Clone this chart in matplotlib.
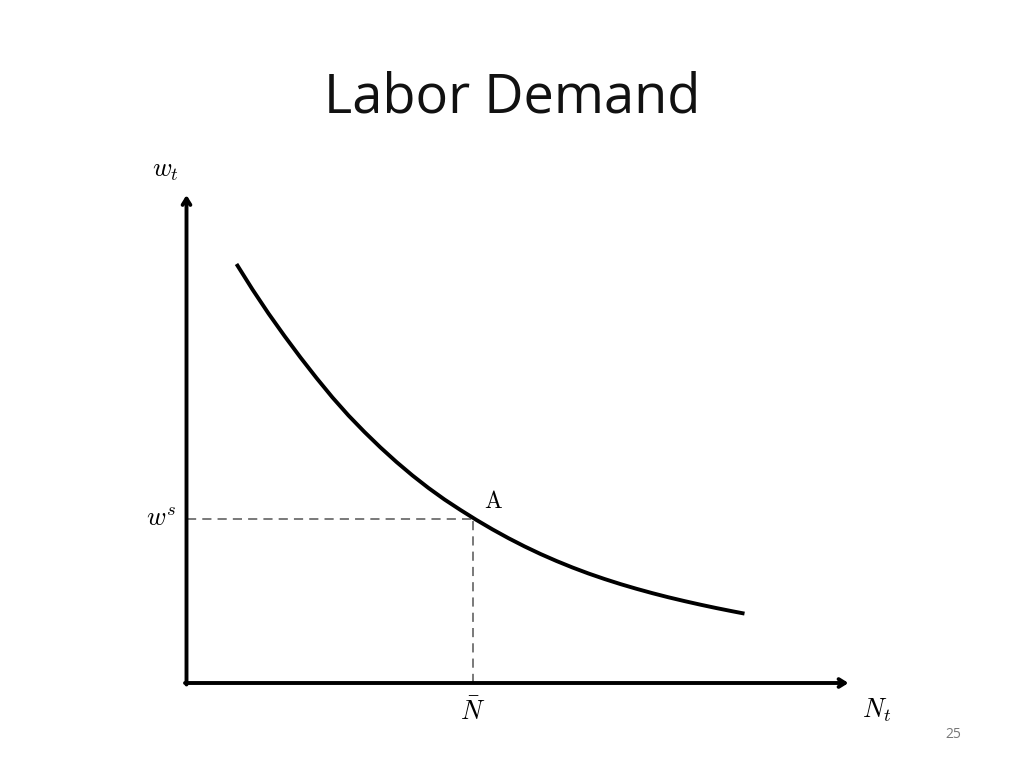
import matplotlib
matplotlib.use("Agg")
import matplotlib.pyplot as plt

# labor demand curve (units: pixels from the origin)
demand_n = [50, 66, 82, 98, 114, 130, 146, 162, 178, 194, 210, 226, 242, 258, 274, 290, 306,
            322, 338, 354, 370, 386, 402, 418, 434, 450, 466, 482, 498, 514, 530, 546, 558]
demand_w = [419, 393.5, 369.5, 347, 325.5, 305, 285.5, 267.5, 251, 235.5, 221, 207.5, 195, 183.5,
            173, 163, 153.6, 144.8, 136.6, 129, 122, 115.5, 109.5, 104, 98.9, 94.2, 89.8, 85.7,
            81.9, 78.3, 74.9, 71.7, 69.4]
point_a = (286.5, 164.5)
axis_max = (662, 488)

plt.rcParams['mathtext.fontset'] = 'cm'

fig = plt.figure(figsize=(10.24, 7.68), dpi=100)
fig.text(0.5, 0.872, "Labor Demand", ha="center", va="center", fontsize=39, family="Open Sans", color="#111111")
fig.text(0.931, 0.043, "25", ha="center", va="center", fontsize=10, family="Open Sans", color="#777777")

ax = fig.add_axes([186.5 / 1024, 85 / 768, axis_max[0] / 1024, axis_max[1] / 768])
ax.set_xlim(0, axis_max[0])
ax.set_ylim(0, axis_max[1])
ax.axis("off")

# axes with arrows
arrow = dict(arrowstyle="->,head_length=0.45,head_width=0.28", lw=2.8, color="black", shrinkA=0, shrinkB=0)
ax.annotate("", xy=(axis_max[0], 0), xytext=(-1.5, 0), arrowprops=arrow, annotation_clip=False)
ax.annotate("", xy=(0, axis_max[1]), xytext=(0, -1.5), arrowprops=arrow, annotation_clip=False)

# dashed guides to point A
ax.plot([0, point_a[0]], [point_a[1], point_a[1]], ls=(0, (6, 4)), lw=1.1, color="#555555")
ax.plot([point_a[0], point_a[0]], [0, point_a[1]], ls=(0, (6, 4)), lw=1.1, color="#555555")

ax.plot(demand_n, demand_w, color="black", lw=2.8, solid_capstyle="butt", solid_joinstyle="round", clip_on=False)

ax.text(point_a[0] + 11, point_a[1] + 6, r"$\mathrm{A}$", fontsize=17, ha="left", va="bottom")
ax.text(-10, point_a[1], r"$w^s$", fontsize=19, ha="right", va="center")
ax.text(point_a[0], -16, r"$\bar{N}$", fontsize=19, ha="center", va="top")
ax.text(-21, axis_max[1] + 12, r"$w_t$", fontsize=19, ha="center", va="bottom")
ax.text(axis_max[0] + 28, -14, r"$N_t$", fontsize=19, ha="center", va="top")

fig.savefig("out.png", dpi=100)
